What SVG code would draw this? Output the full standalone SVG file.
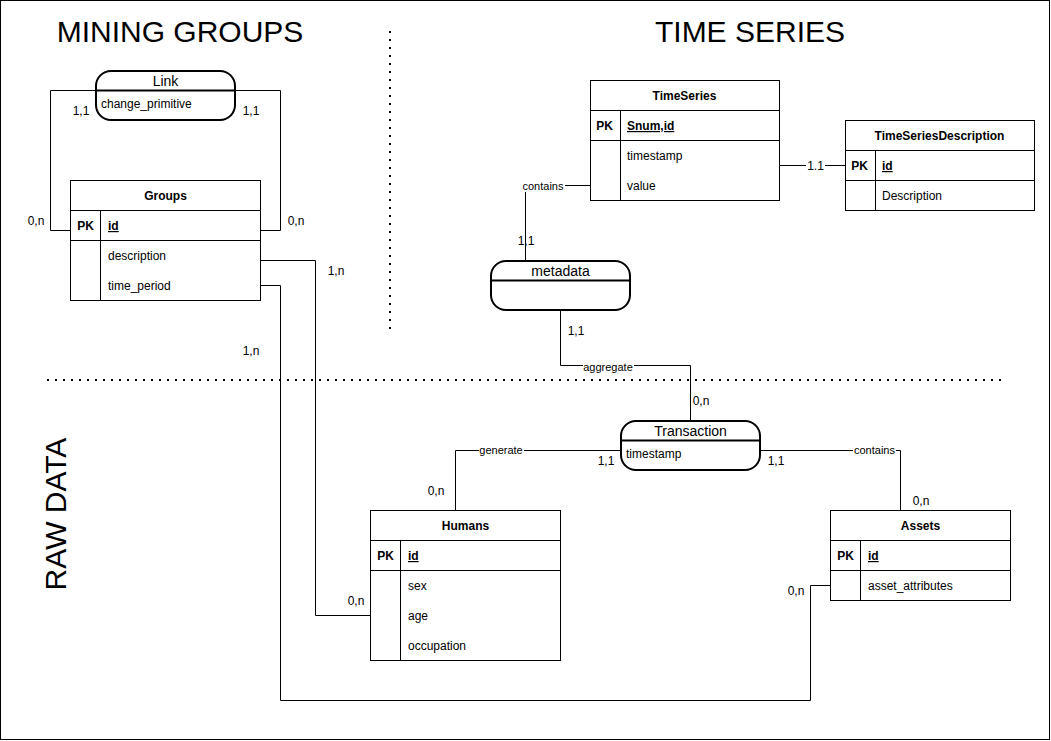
<svg xmlns="http://www.w3.org/2000/svg" width="1051" height="741" viewBox="0 0 1051 741">
<style>
text{font-family:"Liberation Sans",Arial,sans-serif;fill:#000}
.title{font-size:30px;text-anchor:middle}
.t{font-size:12px}
.b{font-weight:bold}
.c{text-anchor:middle}
.u{text-decoration:underline}
.lbl{font-size:11px;text-anchor:middle}
.box{fill:#fff;stroke:#000;stroke-width:1}
.ln{fill:none;stroke:#000;stroke-width:1}
.rel{fill:#fff;stroke:#000;stroke-width:2}
.rl{stroke:#000;stroke-width:2}
.dot{stroke:#000;stroke-width:2;stroke-dasharray:2 6;fill:none}
.bg{fill:#fff}
</style>
<rect x="0.5" y="0.5" width="1049" height="739" fill="#fff" stroke="#000"/>
<g id="titles">
<text class="title" x="180" y="42">MINING GROUPS</text>
<text class="title" x="750" y="42">TIME SERIES</text>
<text class="title" transform="translate(66,514) rotate(-90)">RAW DATA</text>
</g>
<g id="separators">
<line class="dot" x1="390" y1="31" x2="390" y2="330"/>
<line class="dot" x1="47" y1="380" x2="1002" y2="380"/>
</g>
<g id="connectors">
<polyline class="ln" points="95,90.5 50.5,90.5 50.5,230.5 70,230.5"/>
<polyline class="ln" points="235,90.5 280.5,90.5 280.5,230.5 260,230.5"/>
<polyline class="ln" points="260,260.5 315.5,260.5 315.5,615.5 370,615.5"/>
<polyline class="ln" points="260,285.5 280.5,285.5 280.5,700.5 810.5,700.5 810.5,585.5 830,585.5"/>
<line class="ln" x1="780" y1="165.5" x2="845" y2="165.5"/>
<polyline class="ln" points="590,185.5 525.5,185.5 525.5,260"/>
<polyline class="ln" points="560.5,310 560.5,365.5 690.5,365.5 690.5,420"/>
<polyline class="ln" points="620,450.5 455.5,450.5 455.5,510"/>
<polyline class="ln" points="760,450.5 900.5,450.5 900.5,510"/>
<rect class="bg" x="522" y="180" width="43" height="12"/>
<text class="lbl" x="543" y="190">contains</text>
<rect class="bg" x="806" y="159" width="19" height="13"/>
<text class="t c" x="815.5" y="170">1.1</text>
<rect class="bg" x="583" y="360" width="51" height="12"/>
<text class="lbl" x="608" y="371">aggregate</text>
<rect class="bg" x="479" y="444" width="45" height="12"/>
<text class="lbl" x="501" y="454">generate</text>
<rect class="bg" x="853" y="444" width="43" height="12"/>
<text class="lbl" x="874.5" y="454">contains</text>
<text class="t c" x="81" y="115">1,1</text>
<text class="t c" x="251" y="115">1,1</text>
<text class="t c" x="36" y="225">0,n</text>
<text class="t c" x="296" y="225">0,n</text>
<text class="t c" x="336" y="275">1,n</text>
<text class="t c" x="251" y="355">1,n</text>
<text class="t c" x="356" y="605">0,n</text>
<text class="t c" x="796" y="595">0,n</text>
<text class="t c" x="526" y="245">1,1</text>
<text class="t c" x="576" y="335">1,1</text>
<text class="t c" x="701" y="405">0,n</text>
<text class="t c" x="606" y="465">1,1</text>
<text class="t c" x="776" y="465">1,1</text>
<text class="t c" x="436" y="495">0,n</text>
<text class="t c" x="921" y="505">0,n</text>
</g>
<g id="Link">
<rect class="rel" x="96" y="71" width="139" height="49" rx="15"/>
<line class="rl" x1="96" y1="90.5" x2="235" y2="90.5"/>
<text class="c" style="font-size:14px" x="165.5" y="86">Link</text>
<text class="t" x="101" y="108">change_primitive</text>
</g>
<g id="Groups">
<rect class="box" x="70.5" y="180.5" width="190" height="120"/>
<line class="ln" x1="70.5" y1="210.5" x2="260.5" y2="210.5"/>
<line class="ln" x1="70.5" y1="240.5" x2="260.5" y2="240.5"/>
<line class="ln" x1="100.5" y1="210.5" x2="100.5" y2="300.5"/>
<text class="t b c" x="165.5" y="200">Groups</text>
<text class="t b c" x="85.5" y="230">PK</text>
<text class="t b u" x="108" y="230">id</text>
<text class="t" x="108" y="260">description</text>
<text class="t" x="108" y="290">time_period</text>
</g>
<g id="TimeSeries">
<rect class="box" x="590.5" y="80.5" width="189" height="120"/>
<line class="ln" x1="590.5" y1="110.5" x2="779.5" y2="110.5"/>
<line class="ln" x1="590.5" y1="140.5" x2="779.5" y2="140.5"/>
<line class="ln" x1="620.5" y1="110.5" x2="620.5" y2="200.5"/>
<text class="t b c" x="684.5" y="100">TimeSeries</text>
<text class="t b c" x="604.5" y="130">PK</text>
<text class="t b u" x="627" y="130">Snum,id</text>
<text class="t" x="627" y="160">timestamp</text>
<text class="t" x="627" y="190">value</text>
</g>
<g id="TimeSeriesDescription">
<rect class="box" x="845.5" y="120.5" width="189" height="90"/>
<line class="ln" x1="845.5" y1="150.5" x2="1034.5" y2="150.5"/>
<line class="ln" x1="845.5" y1="180.5" x2="1034.5" y2="180.5"/>
<line class="ln" x1="875.5" y1="150.5" x2="875.5" y2="210.5"/>
<text class="t b c" x="939.5" y="140">TimeSeriesDescription</text>
<text class="t b c" x="859.5" y="170">PK</text>
<text class="t b u" x="882" y="170">id</text>
<text class="t" x="882" y="200">Description</text>
</g>
<g id="metadata">
<rect class="rel" x="491" y="261" width="139" height="49" rx="15"/>
<line class="rl" x1="491" y1="280.5" x2="630" y2="280.5"/>
<text class="c" style="font-size:14px" x="560.5" y="276">metadata</text>
</g>
<g id="Transaction">
<rect class="rel" x="621" y="421" width="139" height="49" rx="15"/>
<line class="rl" x1="621" y1="440.5" x2="760" y2="440.5"/>
<text class="c" style="font-size:14px" x="690.5" y="436">Transaction</text>
<text class="t" x="626" y="458">timestamp</text>
</g>
<g id="Humans">
<rect class="box" x="370.5" y="510.5" width="190" height="150"/>
<line class="ln" x1="370.5" y1="540.5" x2="560.5" y2="540.5"/>
<line class="ln" x1="370.5" y1="570.5" x2="560.5" y2="570.5"/>
<line class="ln" x1="400.5" y1="540.5" x2="400.5" y2="660.5"/>
<text class="t b c" x="465.5" y="530">Humans</text>
<text class="t b c" x="385.5" y="560">PK</text>
<text class="t b u" x="408" y="560">id</text>
<text class="t" x="408" y="590">sex</text>
<text class="t" x="408" y="620">age</text>
<text class="t" x="408" y="650">occupation</text>
</g>
<g id="Assets">
<rect class="box" x="830.5" y="510.5" width="180" height="90"/>
<line class="ln" x1="830.5" y1="540.5" x2="1010.5" y2="540.5"/>
<line class="ln" x1="830.5" y1="570.5" x2="1010.5" y2="570.5"/>
<line class="ln" x1="860.5" y1="540.5" x2="860.5" y2="600.5"/>
<text class="t b c" x="920.5" y="530">Assets</text>
<text class="t b c" x="845.5" y="560">PK</text>
<text class="t b u" x="868" y="560">id</text>
<text class="t" x="868" y="590">asset_attributes</text>
</g>
</svg>
